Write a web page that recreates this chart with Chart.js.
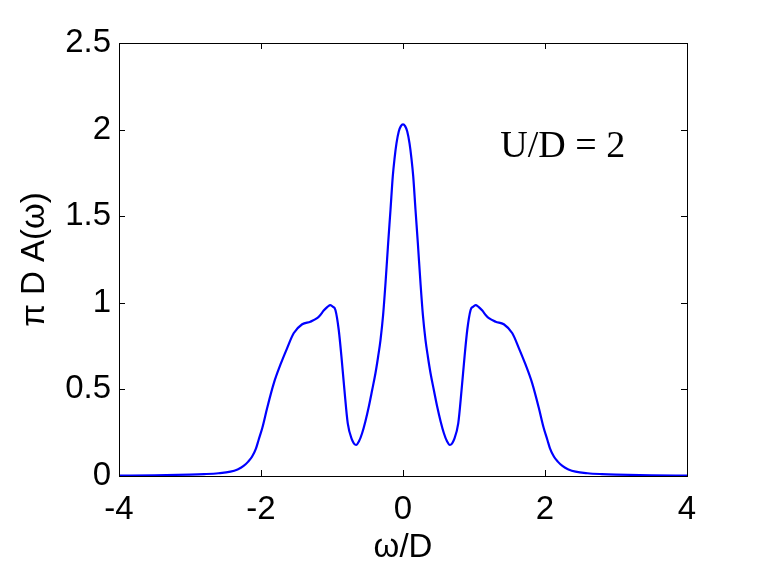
<!DOCTYPE html>
<html lang="en">
<head>
  <meta charset="UTF-8" />
  <title>Spectral function U/D=2</title>
  <script src="https://cdn.jsdelivr.net/npm/chart.js"></script>
  <style>
    body {
        margin: 0;
        background: #ffffff;
    }
    #wrap {
        width: 758px;
        height: 572px;
    }
  </style>
</head>
<body>
  <div id="wrap"><canvas id="dosChart" width="758" height="572"></canvas></div>

  <script>
    // omega / D
    const omega = [
      -4.0, -3.5, -3.0, -2.8, -2.6, -2.43, -2.33, -2.245, -2.18, -2.127,
      -2.07, -2.034, -1.98, -1.915, -1.82, -1.728, -1.633, -1.54, -1.42, -1.305,
      -1.21, -1.164, -1.117, -1.06, -1.023, -0.99, -0.952, -0.905, -0.867, -0.825,
      -0.778, -0.717, -0.69, -0.66, -0.62, -0.576, -0.53, -0.482, -0.435, -0.388,
      -0.35, -0.317, -0.28, -0.247, -0.209, -0.176, -0.144, -0.12, -0.092, -0.059,
      -0.03, 0.0,
      0.03, 0.059, 0.092, 0.12, 0.144, 0.176, 0.209, 0.247, 0.28, 0.317,
      0.35, 0.388, 0.435, 0.482, 0.53, 0.576, 0.62, 0.66, 0.69, 0.717,
      0.778, 0.825, 0.867, 0.905, 0.952, 0.99, 1.023, 1.06, 1.117, 1.164,
      1.21, 1.305, 1.42, 1.54, 1.633, 1.728, 1.82, 1.915, 1.98, 2.034,
      2.07, 2.127, 2.18, 2.245, 2.33, 2.43, 2.6, 2.8, 3.0, 3.5,
      4.0
    ];
    // pi D A(omega)
    const spectral = [
      0.002, 0.004, 0.008, 0.011, 0.016, 0.025, 0.038, 0.058, 0.083, 0.111,
      0.16, 0.208, 0.28, 0.39, 0.535, 0.641, 0.737, 0.824, 0.876, 0.891,
      0.911, 0.93, 0.955, 0.978, 0.987, 0.978, 0.958, 0.843, 0.689, 0.497,
      0.304, 0.208, 0.187, 0.179, 0.2, 0.247, 0.315, 0.4, 0.495, 0.593,
      0.69, 0.785, 0.93, 1.11, 1.345, 1.537, 1.73, 1.83, 1.92, 1.99,
      2.02, 2.03,
      2.02, 1.99, 1.92, 1.83, 1.73, 1.537, 1.345, 1.11, 0.93, 0.785,
      0.69, 0.593, 0.495, 0.4, 0.315, 0.247, 0.2, 0.179, 0.187, 0.208,
      0.304, 0.497, 0.689, 0.843, 0.958, 0.978, 0.987, 0.978, 0.955, 0.93,
      0.911, 0.891, 0.876, 0.824, 0.737, 0.641, 0.535, 0.39, 0.28, 0.208,
      0.16, 0.111, 0.083, 0.058, 0.038, 0.025, 0.016, 0.011, 0.008, 0.004,
      0.002
    ];
    const xTicks = [-4, -2, 0, 2, 4];
    const yTicks = [0, 0.5, 1, 1.5, 2, 2.5];
    const xLabel = 'ω/D';
    const yLabel = 'π D A(ω)';
    const note = 'U/D = 2';

    const tickFont = { family: "'Liberation Sans', Arial, sans-serif", size: 33 };

    // box around the axes with inward ticks, plus the U/D note
    const framePlugin = {
      id: 'frame',
      afterDatasetsDraw(chart) {
        const { ctx, chartArea: a, scales } = chart;
        ctx.save();
        ctx.strokeStyle = '#000000';
        ctx.lineWidth = 1;
        ctx.strokeRect(a.left + 0.5, a.top + 0.5, a.right - a.left, a.bottom - a.top);
        ctx.beginPath();
        xTicks.forEach(v => {
          const px = Math.round(scales.x.getPixelForValue(v)) + 0.5;
          ctx.moveTo(px, a.bottom); ctx.lineTo(px, a.bottom - 6);
          ctx.moveTo(px, a.top); ctx.lineTo(px, a.top + 6);
        });
        yTicks.forEach(v => {
          const py = Math.round(scales.y.getPixelForValue(v)) + 0.5;
          ctx.moveTo(a.left, py); ctx.lineTo(a.left + 6, py);
          ctx.moveTo(a.right, py); ctx.lineTo(a.right - 6, py);
        });
        ctx.stroke();

        ctx.fillStyle = '#000000';
        ctx.font = "38px 'Liberation Serif', 'DejaVu Serif', serif";
        ctx.textBaseline = 'alphabetic';
        ctx.textAlign = 'left';
        ctx.fillText(note, scales.x.getPixelForValue(1.37), scales.y.getPixelForValue(1.84));
        ctx.restore();
      }
    };

    const ctx = document.getElementById('dosChart').getContext('2d');
    new Chart(ctx, {
      type: 'line',
      data: {
        datasets: [{
          data: omega.map((w, i) => ({ x: w, y: spectral[i] })),
          borderColor: '#0000ff',
          borderWidth: 2.2,
          pointRadius: 0,
          fill: false,
          cubicInterpolationMode: 'monotone'
        }]
      },
      options: {
        responsive: false,
        animation: false,
        layout: { padding: { top: 43, right: 71, left: 0, bottom: 0 } },
        plugins: {
          legend: { display: false },
          tooltip: { enabled: false }
        },
        scales: {
          x: {
            type: 'linear',
            min: -4,
            max: 4,
            afterBuildTicks: s => { s.ticks = xTicks.map(v => ({ value: v })); },
            afterFit: s => { s.height = 96; },
            grid: { display: false, drawTicks: false },
            border: { display: false },
            ticks: { color: '#000', font: tickFont, padding: 14, maxRotation: 0, callback: v => String(v) },
            title: { display: true, text: xLabel, color: '#000', font: tickFont, padding: { top: 0, bottom: 4 } }
          },
          y: {
            type: 'linear',
            min: 0,
            max: 2.5,
            afterBuildTicks: s => { s.ticks = yTicks.map(v => ({ value: v })); },
            afterFit: s => { s.width = 119; },
            grid: { display: false, drawTicks: false },
            border: { display: false },
            ticks: { color: '#000', font: tickFont, padding: 8, callback: v => String(v) },
            title: { display: true, text: yLabel, color: '#000', font: tickFont, padding: { top: 15, bottom: 0 } }
          }
        }
      },
      plugins: [framePlugin]
    });
  </script>
</body>
</html>
